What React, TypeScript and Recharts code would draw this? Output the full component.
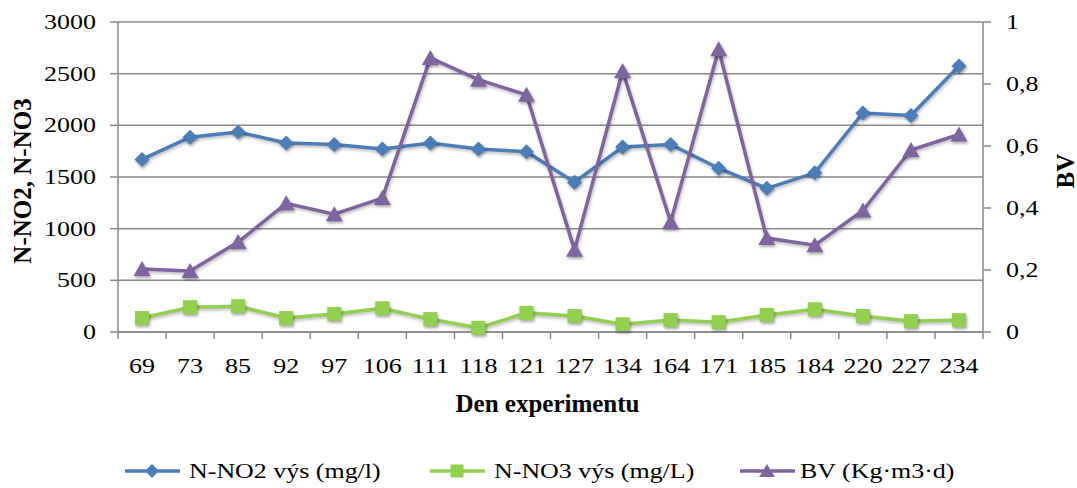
import React from 'react';
import {
  LineChart,
  Line,
  XAxis,
  YAxis,
  CartesianGrid,
  Legend
} from 'recharts';

// experiment day labels (order as in the source chart)
const days = ['69', '73', '85', '92', '97', '106', '111', '118', '121', '127', '134', '164', '171', '185', '184', '220', '227', '234'];
const no2Values = [1670, 1885, 1935, 1830, 1815, 1770, 1830, 1770, 1745, 1450, 1790, 1815, 1585, 1390, 1540, 2120, 2095, 2575];
const no3Values = [135, 240, 250, 135, 175, 230, 125, 40, 185, 155, 75, 115, 95, 165, 220, 155, 105, 115];
const bvValues = [0.203, 0.197, 0.29, 0.415, 0.38, 0.432, 0.884, 0.814, 0.765, 0.265, 0.842, 0.355, 0.912, 0.303, 0.28, 0.392, 0.587, 0.637];

const leftTicks = [0, 500, 1000, 1500, 2000, 2500, 3000];
const rightTicks = [0, 0.2, 0.4, 0.6, 0.8, 1];

const data = days.map((day, i) => ({
  day,
  no2: no2Values[i],
  no3: no3Values[i],
  bv: bvValues[i]
}));

const BLUE = '#4a7ebb';
const GREEN = '#92d050';
const PURPLE = '#8064a2';
const AXIS = '#898989';
const FONT = 'Liberation Serif, Tinos, serif';
// the source picture is a bit wide, so the regular text is stretched sideways
const SX = 1.3;

const Diamond = (props: any) => {
  const { cx, cy } = props;
  if (cx == null || cy == null) return null;
  const r = 7.5;
  return (
    <path
      className="mark"
      d={`M${cx},${cy - r} L${cx + r},${cy} L${cx},${cy + r} L${cx - r},${cy} Z`}
      fill={BLUE}
    />
  );
};

const Square = (props: any) => {
  const { cx, cy } = props;
  if (cx == null || cy == null) return null;
  const r = 7;
  return <rect className="mark" x={cx - r} y={cy - r} width={r * 2} height={r * 2} fill={GREEN} />;
};

const Triangle = (props: any) => {
  const { cx, cy } = props;
  if (cx == null || cy == null) return null;
  return (
    <path
      className="mark"
      d={`M${cx},${cy - 8} L${cx + 8.5},${cy + 7} L${cx - 8.5},${cy + 7} Z`}
      fill={PURPLE}
    />
  );
};

const Wide = ({ x, y, anchor, children, size = 20, sx = SX }: any) => (
  <text
    transform={`translate(${x},${y}) scale(${sx},1)`}
    textAnchor={anchor}
    dominantBaseline="central"
    fontSize={size}
    fontFamily={FONT}
    fill="#000"
  >
    {children}
  </text>
);

// category label plus a tick mark on the category boundary
const DayTick = (props: any) => {
  const { x, y, payload, index, visibleTicksCount } = props;
  const band = 48;
  const left = x - band / 2;
  return (
    <g>
      <line x1={left} y1={y - 8} x2={left} y2={y - 1} stroke={AXIS} strokeWidth={1.5} />
      {index === visibleTicksCount - 1 && (
        <line x1={x + band / 2} y1={y - 8} x2={x + band / 2} y2={y - 1} stroke={AXIS} strokeWidth={1.5} />
      )}
      <Wide x={x} y={y + 26} anchor="middle">{payload.value}</Wide>
    </g>
  );
};

const LeftTick = (props: any) => (
  <Wide x={props.x} y={props.y} anchor="end">{props.payload.value}</Wide>
);

const fmtBV = (v: number) => String(v).replace('.', ',');

const RightTick = (props: any) => (
  <Wide x={props.x} y={props.y} anchor="start">{fmtBV(props.payload.value)}</Wide>
);

const legendItems = [
  { name: 'N-NO2 výs (mg/l)', color: BLUE, shape: 'diamond', x: 125, tx: 189 },
  { name: 'N-NO3 výs (mg/L)', color: GREEN, shape: 'square', x: 430, tx: 494 },
  { name: 'BV (Kg·m3·d)', color: PURPLE, shape: 'triangle', x: 740, tx: 800 }
];

const LegendContent = () => (
  <svg width={1077} height={36} style={{ display: 'block' }}>
    {legendItems.map((item) => {
      const y = 19;
      const m = item.x + 27;
      return (
        <g key={item.name}>
          <line x1={item.x} y1={y} x2={item.x + 55} y2={y} stroke={item.color} strokeWidth={3.5} />
          {item.shape === 'diamond' && <path d={`M${m},${y - 7} L${m + 7},${y} L${m},${y + 7} L${m - 7},${y} Z`} fill={item.color} />}
          {item.shape === 'square' && <rect x={m - 6.5} y={y - 6.5} width={13} height={13} fill={item.color} />}
          {item.shape === 'triangle' && <path d={`M${m},${y - 7} L${m + 8},${y + 6} L${m - 8},${y + 6} Z`} fill={item.color} />}
          <Wide x={item.tx} y={y} anchor="start" size={22} sx={1.18}>{item.name}</Wide>
        </g>
      );
    })}
  </svg>
);

export default function App() {
  return (
    <div style={{ position: 'absolute', left: 0, top: 0, width: 1077, height: 488, background: '#fff' }}>
      <style>{`
        .recharts-line-curve { filter: drop-shadow(1px 2px 1.5px rgba(0,0,0,0.25)); }
        .mark { filter: drop-shadow(1px 2px 1.5px rgba(0,0,0,0.35)); }
      `}</style>
      <LineChart width={1077} height={488} data={data} margin={{ top: 22, right: 0, bottom: 0, left: 0 }}>
        <CartesianGrid yAxisId="left" vertical={false} stroke={AXIS} strokeWidth={1.5} />
        <XAxis
          dataKey="day"
          height={156}
          padding={{ left: 24, right: 24 }}
          stroke={AXIS}
          strokeWidth={1.5}
          tickLine={false}
          interval={0}
          tick={<DayTick />}
          label={(p: any) => {
            const vb = p.viewBox;
            return (
              <text x={vb.x + vb.width / 2 - 3} y={412} textAnchor="middle" fontFamily={FONT} fontSize={25} fontWeight="bold" fill="#000">
                Den experimentu
              </text>
            );
          }}
        />
        <YAxis
          yAxisId="left"
          width={118}
          domain={[0, 3000]}
          ticks={leftTicks}
          interval={0}
          stroke={AXIS}
          strokeWidth={1.5}
          tickSize={8}
          tickMargin={14}
          tick={<LeftTick />}
          label={() => (
            <text x={22} y={181} transform="rotate(-90 22 181)" textAnchor="middle" dominantBaseline="central" fontFamily={FONT} fontSize={25} fontWeight="bold" fill="#000">
              N-NO2, N-NO3
            </text>
          )}
        />
        <YAxis
          yAxisId="right"
          orientation="right"
          width={94}
          domain={[0, 1]}
          ticks={rightTicks}
          interval={0}
          stroke={AXIS}
          strokeWidth={1.5}
          tickSize={8}
          tickMargin={15}
          tick={<RightTick />}
          label={() => (
            <text x={1065} y={171} transform="rotate(-90 1065 171)" textAnchor="middle" dominantBaseline="central" fontFamily={FONT} fontSize={25} fontWeight="bold" fill="#000">
              BV
            </text>
          )}
        />
        <Legend
          verticalAlign="middle"
          align="center"
          layout="horizontal"
          wrapperStyle={{ top: 452, left: 0, width: 1077 }}
          content={<LegendContent />}
        />
        <Line yAxisId="left" dataKey="no2" stroke={BLUE} strokeWidth={3.5} dot={<Diamond />} activeDot={false} isAnimationActive={false} />
        <Line yAxisId="left" dataKey="no3" stroke={GREEN} strokeWidth={3.5} dot={<Square />} activeDot={false} isAnimationActive={false} />
        <Line yAxisId="right" dataKey="bv" stroke={PURPLE} strokeWidth={3.5} dot={<Triangle />} activeDot={false} isAnimationActive={false} />
      </LineChart>
    </div>
  );
}
